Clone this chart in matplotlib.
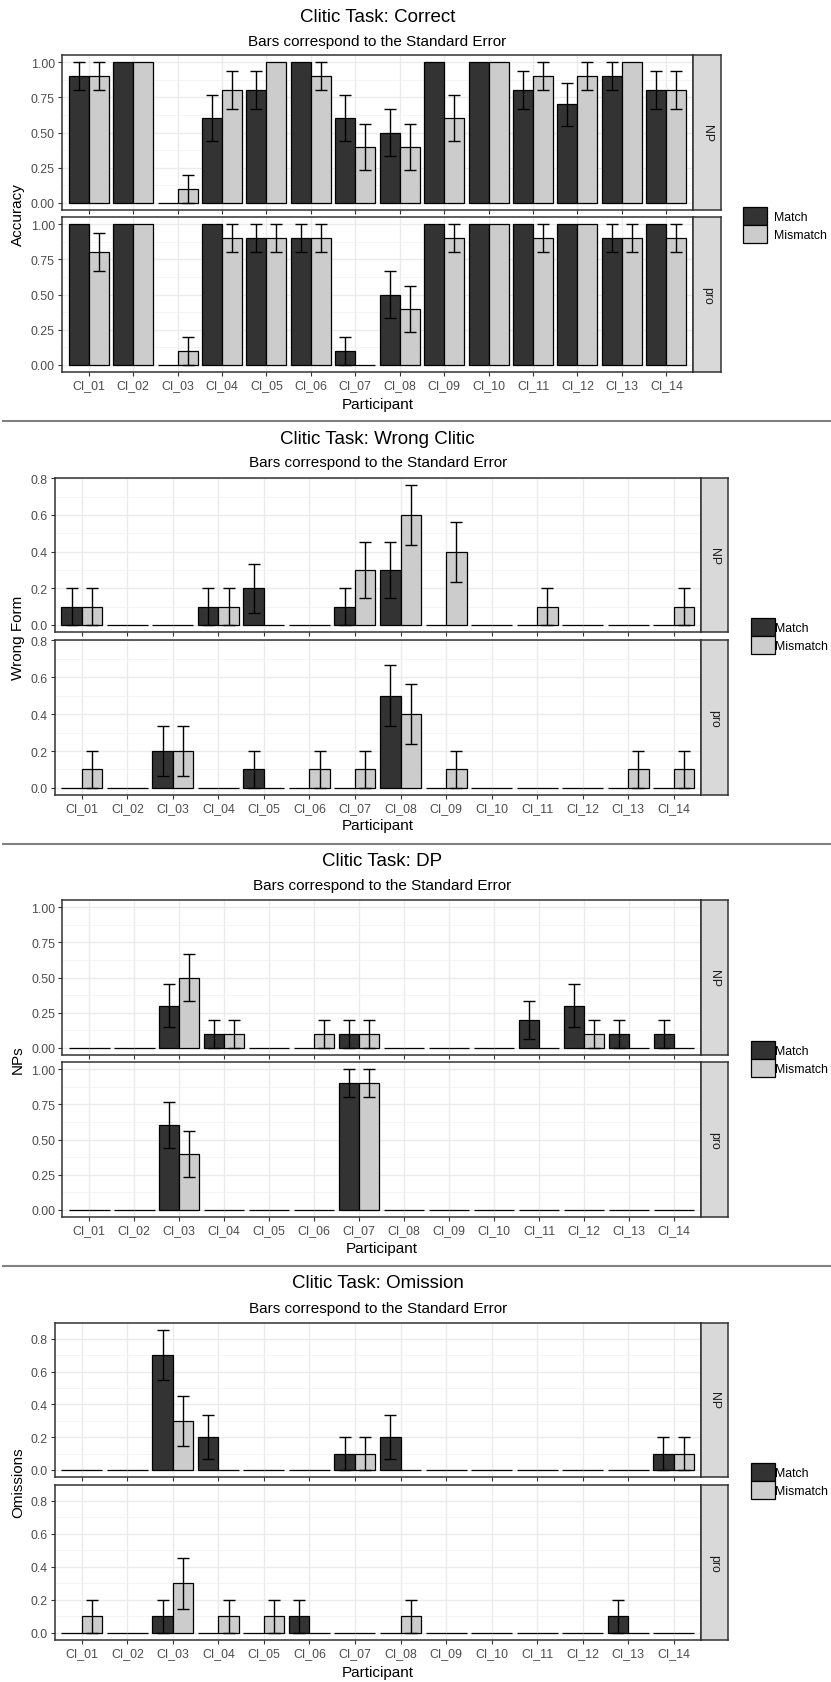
import numpy as np
import matplotlib
matplotlib.use("Agg")
import matplotlib.pyplot as plt
from matplotlib.lines import Line2D

plt.rcParams['font.family'] = ['Liberation Sans', 'DejaVu Sans']

participants = ['CI_01', 'CI_02', 'CI_03', 'CI_04', 'CI_05', 'CI_06', 'CI_07',
                'CI_08', 'CI_09', 'CI_10', 'CI_11', 'CI_12', 'CI_13', 'CI_14']
conditions = ['Match', 'Mismatch']
facets = ['NP', 'pro']

# proportions per participant (10 items per cell)
correct_np_match = [0.9, 1.0, 0.0, 0.6, 0.8, 1.0, 0.6, 0.5, 1.0, 1.0, 0.8, 0.7, 0.9, 0.8]
correct_np_mismatch = [0.9, 1.0, 0.1, 0.8, 1.0, 0.9, 0.4, 0.4, 0.6, 1.0, 0.9, 0.9, 1.0, 0.8]
correct_pro_match = [1.0, 1.0, 0.0, 1.0, 0.9, 0.9, 0.1, 0.5, 1.0, 1.0, 1.0, 1.0, 0.9, 1.0]
correct_pro_mismatch = [0.8, 1.0, 0.1, 0.9, 0.9, 0.9, 0.0, 0.4, 0.9, 1.0, 0.9, 1.0, 0.9, 0.9]

wrong_np_match = [0.1, 0.0, 0.0, 0.1, 0.2, 0.0, 0.1, 0.3, 0.0, 0.0, 0.0, 0.0, 0.0, 0.0]
wrong_np_mismatch = [0.1, 0.0, 0.0, 0.1, 0.0, 0.0, 0.3, 0.6, 0.4, 0.0, 0.1, 0.0, 0.0, 0.1]
wrong_pro_match = [0.0, 0.0, 0.2, 0.0, 0.1, 0.0, 0.0, 0.5, 0.0, 0.0, 0.0, 0.0, 0.0, 0.0]
wrong_pro_mismatch = [0.1, 0.0, 0.2, 0.0, 0.0, 0.1, 0.1, 0.4, 0.1, 0.0, 0.0, 0.0, 0.1, 0.1]

dp_np_match = [0.0, 0.0, 0.3, 0.1, 0.0, 0.0, 0.1, 0.0, 0.0, 0.0, 0.2, 0.3, 0.1, 0.1]
dp_np_mismatch = [0.0, 0.0, 0.5, 0.1, 0.0, 0.1, 0.1, 0.0, 0.0, 0.0, 0.0, 0.1, 0.0, 0.0]
dp_pro_match = [0.0, 0.0, 0.6, 0.0, 0.0, 0.0, 0.9, 0.0, 0.0, 0.0, 0.0, 0.0, 0.0, 0.0]
dp_pro_mismatch = [0.0, 0.0, 0.4, 0.0, 0.0, 0.0, 0.9, 0.0, 0.0, 0.0, 0.0, 0.0, 0.0, 0.0]

omission_np_match = [0.0, 0.0, 0.7, 0.2, 0.0, 0.0, 0.1, 0.2, 0.0, 0.0, 0.0, 0.0, 0.0, 0.1]
omission_np_mismatch = [0.0, 0.0, 0.3, 0.0, 0.0, 0.0, 0.1, 0.0, 0.0, 0.0, 0.0, 0.0, 0.0, 0.1]
omission_pro_match = [0.0, 0.0, 0.1, 0.0, 0.0, 0.1, 0.0, 0.0, 0.0, 0.0, 0.0, 0.0, 0.1, 0.0]
omission_pro_mismatch = [0.1, 0.0, 0.3, 0.1, 0.1, 0.0, 0.0, 0.1, 0.0, 0.0, 0.0, 0.0, 0.0, 0.0]

# half-length of the error bars, by bar height
se_by_mean = {0.0: 0.0, 0.1: 0.1, 0.2: 0.133, 0.3: 0.153, 0.4: 0.163, 0.5: 0.167,
              0.6: 0.163, 0.7: 0.153, 0.8: 0.133, 0.9: 0.1, 1.0: 0.0}

W, H = 831, 1683
fig = plt.figure(figsize=(W / 100, H / 100), dpi=100)

fill = {'Match': '#333333', 'Mismatch': '#CCCCCC'}
tick_col = '#4D4D4D'
frame_col = '#333333'


def box(x0, y0, x1, y1):
    # pixel box (top-left origin) -> figure fraction rect
    return [x0 / W, 1 - y1 / H, (x1 - x0) / W, (y1 - y0) / H]


charts = [
    dict(title='Clitic Task: Correct', ylabel='Accuracy',
         data={'NP': (correct_np_match, correct_np_mismatch),
               'pro': (correct_pro_match, correct_pro_mismatch)},
         yticks=[0, 0.25, 0.5, 0.75, 1.0], fmt='%.2f',
         left=62, right=693, strip=721, np_y=(56, 211), pro_y=(218, 373),
         title_y=17, sub_y=42, xlab_y=405, leg_x=743, leg_y=226, leg_pad=0.6),
    dict(title='Clitic Task: Wrong Clitic', ylabel='Wrong Form',
         data={'NP': (wrong_np_match, wrong_np_mismatch),
               'pro': (wrong_pro_match, wrong_pro_mismatch)},
         yticks=[0, 0.2, 0.4, 0.6, 0.8], fmt='%.1f',
         left=54.5, right=701, strip=727.5, np_y=(479, 633), pro_y=(641, 796),
         title_y=439, sub_y=463, xlab_y=826, leg_x=751, leg_y=637, leg_pad=0.05),
    dict(title='Clitic Task: DP', ylabel='NPs',
         data={'NP': (dp_np_match, dp_np_mismatch),
               'pro': (dp_pro_match, dp_pro_mismatch)},
         yticks=[0, 0.25, 0.5, 0.75, 1.0], fmt='%.2f',
         left=62.3, right=701, strip=727.5, np_y=(901, 1056), pro_y=(1063, 1218),
         title_y=862, sub_y=886, xlab_y=1249, leg_x=751, leg_y=1060, leg_pad=0.05),
    dict(title='Clitic Task: Omission', ylabel='Omissions',
         data={'NP': (omission_np_match, omission_np_mismatch),
               'pro': (omission_pro_match, omission_pro_mismatch)},
         yticks=[0, 0.2, 0.4, 0.6, 0.8], fmt='%.1f',
         left=54.5, right=701, strip=727.5, np_y=(1324, 1478), pro_y=(1486, 1641),
         title_y=1284, sub_y=1309, xlab_y=1673, leg_x=751, leg_y=1482, leg_pad=0.05),
]

x = np.arange(len(participants))
bw = 0.45

for c in charts:
    # shared y scale across facets, ggplot-style 5% expansion
    top = 0.0
    for m, mm in c['data'].values():
        for vals in (m, mm):
            top = max(top, max(v + se_by_mean[round(v, 1)] for v in vals))
    pad = 0.05 * top
    ylim = (-pad, top + pad)
    minor = [(a + b) / 2 for a, b in zip(c['yticks'][:-1], c['yticks'][1:])]

    handles = None
    for facet, (y0, y1) in zip(facets, [c['np_y'], c['pro_y']]):
        ax = fig.add_axes(box(c['left'], y0, c['right'], y1))
        match, mismatch = c['data'][facet]
        bars = []
        for off, cond, vals in [(-bw / 2, 'Match', match), (bw / 2, 'Mismatch', mismatch)]:
            vals = np.array(vals)
            b = ax.bar(x + off, vals, width=bw, color=fill[cond], edgecolor='black',
                       linewidth=0.9, label=cond, zorder=2)
            bars.append(b)
            se = np.array([se_by_mean[round(v, 1)] for v in vals])
            keep = se > 0
            ax.errorbar(x[keep] + off, vals[keep], yerr=se[keep], fmt='none',
                        ecolor='black', elinewidth=1.0, capsize=4, capthick=1.0, zorder=3)
        handles = bars

        ax.set_xlim(-0.6, len(participants) - 0.4)
        ax.set_ylim(*ylim)
        ax.set_yticks(c['yticks'])
        ax.set_yticklabels([c['fmt'] % t for t in c['yticks']])
        ax.set_yticks(minor, minor=True)
        ax.set_xticks(x)
        if facet == 'pro':
            ax.set_xticklabels(participants)
        else:
            ax.set_xticklabels([])
        ax.set_axisbelow(True)
        ax.grid(True, which='major', color='#EBEBEB', linewidth=1.0, zorder=0)
        ax.grid(True, which='minor', axis='y', color='#F2F2F2', linewidth=0.6, zorder=0)
        ax.tick_params(which='major', length=2.7, width=0.8, color=frame_col, pad=2.5,
                       labelsize=8.9, labelcolor=tick_col)
        ax.tick_params(which='minor', length=0)
        for s in ax.spines.values():
            s.set_color(frame_col)
            s.set_linewidth(1.1)

        # facet strip on the right
        sax = fig.add_axes(box(c['right'], y0, c['strip'], y1))
        sax.set_facecolor('#D9D9D9')
        sax.set_xticks([])
        sax.set_yticks([])
        for s in sax.spines.values():
            s.set_color(frame_col)
            s.set_linewidth(1.1)
        sax.text(0.5, 0.5, facet, rotation=-90, ha='center', va='center',
                 fontsize=8.8, color='#1A1A1A', transform=sax.transAxes)

    cx = (c['left'] + c['right']) / 2 / W
    fig.text(cx, 1 - c['title_y'] / H, c['title'], ha='center', va='center', fontsize=13.5)
    fig.text(cx, 1 - c['sub_y'] / H, 'Bars correspond to the Standard Error',
             ha='center', va='center', fontsize=11)
    fig.text(cx, 1 - c['xlab_y'] / H, 'Participant', ha='center', va='center', fontsize=11)
    ymid = (c['np_y'][0] + c['pro_y'][1]) / 2
    fig.text(18 / W, 1 - ymid / H, c['ylabel'], rotation=90, ha='center', va='center',
             fontsize=11)
    fig.legend(handles, conditions, loc='center left',
               bbox_to_anchor=(c['leg_x'] / W, 1 - c['leg_y'] / H),
               frameon=False, fontsize=8.8, handlelength=1.95, handleheight=1.9,
               labelspacing=0, handletextpad=c['leg_pad'], borderpad=0, borderaxespad=0)

# grey rules separating the four stacked plots
for y in [422, 845, 1267]:
    fig.add_artist(Line2D([3 / W, 1], [1 - y / H, 1 - y / H], transform=fig.transFigure,
                          color='#808080', linewidth=1.5))

fig.savefig('out.png', dpi=100)
